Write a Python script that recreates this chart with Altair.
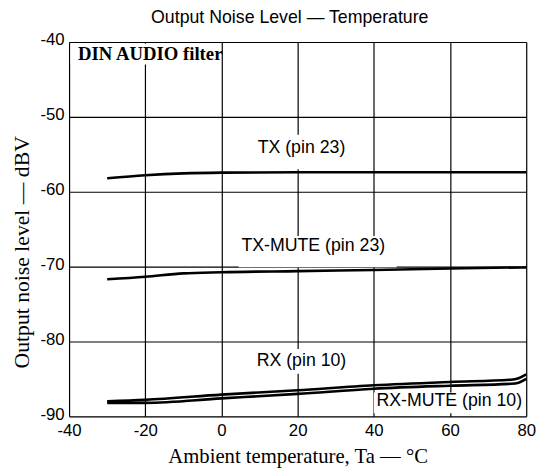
import altair as alt
import pandas as pd

# ---- data ----
tx_temp = [-30, -20, -10, 0, 20, 40, 60, 80]
tx_level = [-58.2, -57.8, -57.55, -57.45, -57.4, -57.4, -57.4, -57.4]

txm_temp = [-30, -20, -10, 0, 20, 40, 60, 80]
txm_level = [-71.7, -71.35, -70.9, -70.75, -70.6, -70.45, -70.25, -70.1]

rx_temp = [-30, -20, 0, 20, 40, 60, 76, 78, 80]
rx_level = [-88.0, -87.8, -87.1, -86.5, -85.85, -85.4, -85.1, -84.9, -84.4]

rxm_temp = [-30, -20, 0, 20, 40, 60, 76, 78, 80]
rxm_level = [-88.2, -88.2, -87.6, -87.0, -86.3, -85.9, -85.65, -85.5, -85.0]

x_ticks = [-40, -20, 0, 20, 40, 60, 80]
y_ticks = [-40, -50, -60, -70, -80, -90]

label_text = ["TX (pin 23)", "TX-MUTE (pin 23)", "RX (pin 10)", "RX-MUTE (pin 10)"]
label_x = [21.0, 24.1, 21.0, 59.8]
label_y = [-54.2, -67.3, -82.6, -88.0]
box_x = [9.0, 4.5, 8.5, 40.0]
box_x2 = [33.0, 46.0, 33.5, 79.6]
box_y = [-52.4, -65.9, -81.0, -86.8]
box_y2 = [-57.0, -70.1, -84.3, -89.6]

filter_text = ["DIN AUDIO filter"]
filter_x = [-18.7]
filter_y = [-41.6]
filter_box_x = [-39.6]
filter_box_x2 = [-2.0]
filter_box_y = [-40.25]
filter_box_y2 = [-43.0]

# ---- tables ----
rows = []
for name, ts, vs in [("TX", tx_temp, tx_level), ("TX-MUTE", txm_temp, txm_level),
                     ("RX", rx_temp, rx_level), ("RX-MUTE", rxm_temp, rxm_level)]:
    for t, v in zip(ts, vs):
        rows.append({"series": name, "temp": t, "level": v})
lines_df = pd.DataFrame(rows)

labels_df = pd.DataFrame({"text": label_text, "x": label_x, "y": label_y,
                          "bx": box_x, "bx2": box_x2, "by": box_y, "by2": box_y2})
filter_df = pd.DataFrame({"text": filter_text, "x": filter_x, "y": filter_y,
                          "bx": filter_box_x, "bx2": filter_box_x2,
                          "by": filter_box_y, "by2": filter_box_y2})

xscale = alt.Scale(domain=[-40, 80], nice=False, zero=False)
yscale = alt.Scale(domain=[-90, -40], nice=False, zero=False)

plain_label = "'' + datum.value"

xaxis = alt.Axis(values=x_ticks, grid=True, gridColor="black", gridOpacity=1, gridWidth=1.2,
                 domain=False, ticks=False, labelFont="Liberation Sans", labelFontSize=17,
                 labelColor="black", labelPadding=6, labelFlush=False, labelExpr=plain_label,
                 title="Ambient temperature, Ta — °C", titleFont="Liberation Serif",
                 titleFontSize=21, titleFontWeight="normal", titleColor="black",
                 titleY=47, titleBaseline="alphabetic")
yaxis = alt.Axis(values=y_ticks, grid=True, gridColor="black", gridOpacity=1, gridWidth=1.2,
                 domain=False, ticks=False, labelFont="Liberation Sans", labelFontSize=17,
                 labelColor="black", labelPadding=5, labelOffset=-2, labelFlush=False,
                 labelExpr=plain_label,
                 title="Output noise level — dBV", titleFont="Liberation Serif",
                 titleFontSize=22, titleFontWeight="normal", titleColor="black",
                 titleX=-48, titleY=213, titleAngle=270, titleBaseline="middle",
                 titleAlign="center")

lines = alt.Chart(lines_df).mark_line(color="black", strokeWidth=2.6, interpolate="monotone").encode(
    x=alt.X("temp:Q", scale=xscale, axis=xaxis),
    y=alt.Y("level:Q", scale=yscale, axis=yaxis),
    detail="series:N",
)

boxes = alt.Chart(labels_df).mark_rect(color="white").encode(
    x=alt.X("bx:Q", scale=xscale), x2="bx2:Q",
    y=alt.Y("by:Q", scale=yscale), y2="by2:Q",
)
texts = alt.Chart(labels_df).mark_text(font="Liberation Sans", fontSize=18, color="black",
                                       align="center", baseline="middle").encode(
    x=alt.X("x:Q", scale=xscale), y=alt.Y("y:Q", scale=yscale), text="text:N",
)

fbox = alt.Chart(filter_df).mark_rect(color="white").encode(
    x=alt.X("bx:Q", scale=xscale), x2="bx2:Q",
    y=alt.Y("by:Q", scale=yscale), y2="by2:Q",
)
ftext = alt.Chart(filter_df).mark_text(font="Liberation Serif", fontSize=19, fontWeight="bold",
                                       color="black", align="center", baseline="middle").encode(
    x=alt.X("x:Q", scale=xscale), y=alt.Y("y:Q", scale=yscale), text="text:N",
)

chart = alt.layer(lines, boxes, texts, fbox, ftext).properties(
    width=464, height=380,
    title=alt.TitleParams("Output Noise Level — Temperature", font="Liberation Sans",
                          fontSize=18, fontWeight="normal", color="black",
                          anchor="middle", dx=-8, offset=4),
    autosize=alt.AutoSizeParams(type="none"),
    padding={"left": 62, "top": 31, "right": 15, "bottom": 54},
).configure_view(stroke="black", strokeWidth=1.6).configure(background="white")

chart.save("out.html", embed_options={"renderer": "svg", "actions": False})
